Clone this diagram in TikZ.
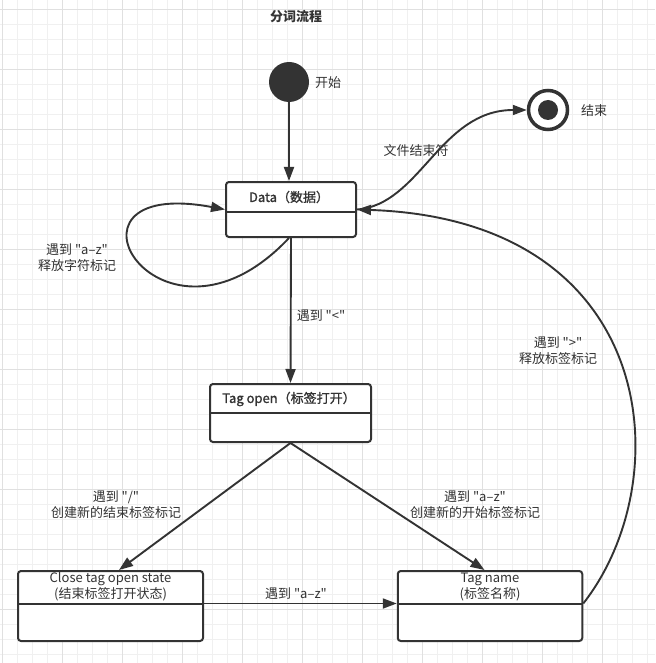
\documentclass[tikz,border=0pt]{standalone}
\usepackage{fontspec}
\newfontfamily\cjk{Noto Sans CJK SC}
\newfontfamily\cjkmed[FakeBold=1.2]{Noto Sans CJK SC}
\usetikzlibrary{arrows.meta}
\definecolor{ink}{HTML}{333333}
\definecolor{gridminor}{HTML}{F0F0F0}
\definecolor{gridmajor}{HTML}{E0E0E0}

\begin{document}
\begin{tikzpicture}[x=1pt,y=-1pt,
    state/.style={draw=ink, line width=2pt, rounded corners=3pt, fill=white, inner sep=0pt},
    divider/.style={draw=ink, line width=2pt},
    trans/.style={draw=ink, line width=1.9pt, -{Triangle[length=14pt,width=10pt]}},
    lbl/.style={text=ink, font=\cjk\fontsize{13}{16}\selectfont, align=center, inner sep=0pt},
    head/.style={lbl, font=\cjkmed\fontsize{13}{16}\selectfont}]
    \useasboundingbox (0,0) rectangle (655,663);
    \fill[white] (0,0) rectangle (655,663);
    % grid
    \foreach \g in {0,...,43} {
        \draw[gridminor, line width=0.8pt] (2.3+15*\g,0) -- (2.3+15*\g,663);
        \draw[gridminor, line width=0.8pt] (0,9.3+15*\g) -- (655,9.3+15*\g);
    }
    \foreach \g in {0,...,10} {
        \draw[gridmajor, line width=0.9pt] (2.3+60*\g,0) -- (2.3+60*\g,663);
        \draw[gridmajor, line width=0.9pt] (0,9.3+60*\g) -- (655,9.3+60*\g);
    }

    \node[lbl, font=\cjk\fontsize{13}{16}\selectfont\bfseries] (title) at (296,17) {分词流程};

    % start and end
    \node[circle, fill=ink, minimum size=40pt, inner sep=0pt] (start) at (289,82) {};
    \node[lbl, anchor=west] (startl) at (315,83) {开始};
    \node[circle, draw=ink, line width=3.5pt, fill=white, minimum size=39pt, inner sep=0pt] (stop) at (548,110) {};
    \node[circle, fill=ink, minimum size=20pt, inner sep=0pt] (stopdot) at (stop) {};
    \node[lbl, anchor=west] (stopl) at (581,111) {结束};

    % states
    \node[state, minimum width=130pt, minimum height=55pt] (data) at (291,209.5) {};
    \node[head] (datat) at (289,197) {Data（数据）};
    \draw[divider] (data.west |- 0,212) -- (data.east |- 0,212);

    \node[state, minimum width=161pt, minimum height=58pt] (open) at (290.5,413) {};
    \node[head] (opent) at (289,399) {Tag open（标签打开）};
    \draw[divider] (open.west |- 0,413.3) -- (open.east |- 0,413.3);

    \node[state, minimum width=185pt, minimum height=70pt] (close) at (110.5,606) {};
    \node[lbl] (closet) at (110.5,587) {Close tag open state\\(结束标签打开状态)};
    \draw[divider] (close.west |- 0,603.5) -- (close.east |- 0,603.5);

    \node[state, minimum width=184.5pt, minimum height=70pt] (name) at (490,606) {};
    \node[lbl] (namet) at (490,587) {Tag name\\(标签名称)};
    \draw[divider] (name.west |- 0,603.5) -- (name.east |- 0,603.5);

    % transitions
    \draw[trans] (start) -- (start |- data.north);
    \draw[trans] ([xshift=-2pt]data.south) .. controls (160,375) and (40,175) .. (data.west);
    \draw[trans] (data.south) -- (open.north);
    \draw[trans] (data.east) .. controls (420,205) and (440,110) .. (stop.west);
    \draw[trans] (open.south) -- ([xshift=8.5pt]close.north);
    \draw[trans] (open.south) -- ([xshift=-5.5pt]name.north);
    \draw[trans] ([yshift=2.5pt]close.east) -- ([yshift=2.5pt]name.west);
    \draw[trans] ([yshift=2.5pt]name.east) .. controls (680,480) and (660,220) .. (data.east);

    % labels
    \node[lbl] (loopl) at (77,258) {遇到 "a–z"\\释放字符标记};
    \node[lbl] (ltl) at (321,316) {遇到 "<"};
    \node[lbl] (eofl) at (416,151) {文件结束符};
    \node[lbl] (gtl) at (558,351) {遇到 ">"\\释放标签标记};
    \node[lbl] (slashl) at (116,505) {遇到 "/"\\创建新的结束标签标记};
    \node[lbl] (azl) at (475,505) {遇到 "a–z"\\创建新的开始标签标记};
    \node[lbl] (azm) at (296,594) {遇到 "a–z"};
\end{tikzpicture}
\end{document}
